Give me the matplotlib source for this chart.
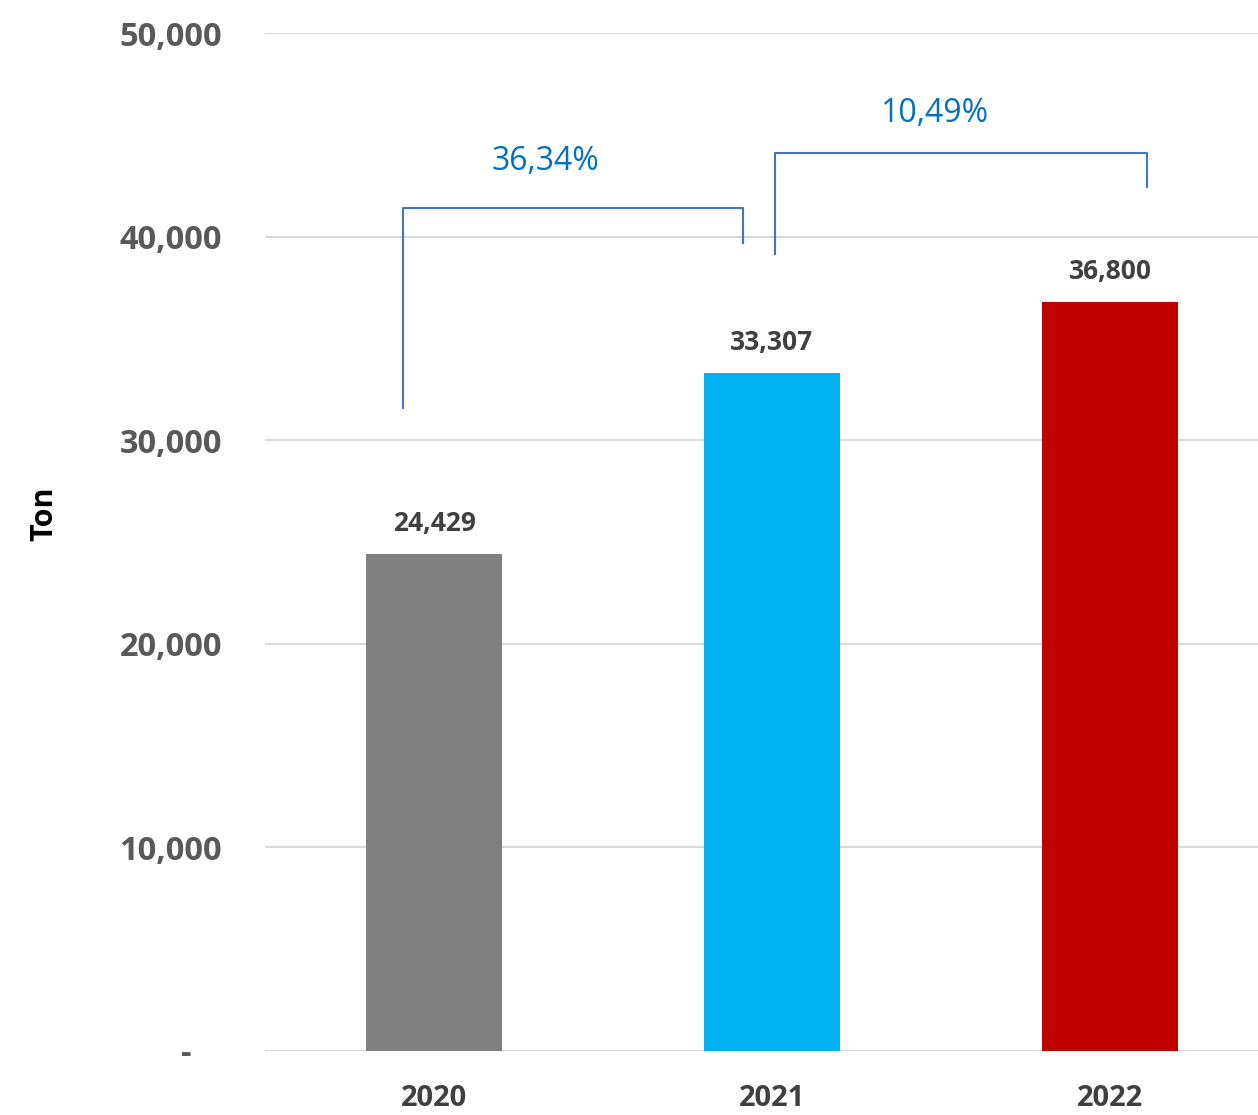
import matplotlib.pyplot as plt

# ===============================
# Dados
# ===============================
years = ["2020", "2021", "2022"]
tons = [24429, 33307, 36800]
bar_colors = ["#808080", "#00B0F0", "#C00000"]

yticks = [0, 10000, 20000, 30000, 40000, 50000]
ytick_labels = ["-", "10,000", "20,000", "30,000", "40,000", "50,000"]

growth_labels = ["36,34%", "10,49%"]

plt.rcParams["font.family"] = ["Open Sans", "DejaVu Sans"]

fig = plt.figure(figsize=(12.58, 11.15), dpi=100)
ax = fig.add_axes([265 / 1258, 64 / 1115, 1 - 265 / 1258, (1051 - 33) / 1115])

x = list(range(len(years)))
ax.bar(x, tons, width=0.40, color=bar_colors, zorder=3)

# rotulos de valor
for xi, v in zip(x, tons):
    ax.annotate(f"{v:,}", (xi, v), xytext=(0, 12), textcoords="offset points",
                ha="center", va="bottom", fontsize=19, fontweight="bold",
                color="#404040")

ax.set_xlim(-0.5, 2.438)
ax.set_ylim(0, 50000)
ax.set_yticks(yticks)
ax.set_yticklabels(ytick_labels, fontsize=23.5, fontweight="bold", color="#595959")
ax.set_xticks(x)
ax.set_xticklabels(years, fontsize=21, fontweight="bold", color="#404040")
ax.tick_params(axis="both", length=0)
ax.tick_params(axis="y", pad=31)
ax.tick_params(axis="x", pad=24)

# o "-" do zero fica um pouco mais a esquerda
ax.get_yticklabels()[0].set_x(-0.031)

ax.grid(axis="y", color="#D9D9D9", linewidth=1.5, zorder=0)
for s in ax.spines.values():
    s.set_visible(False)

ax.set_ylabel("Ton", fontsize=22, fontweight="bold", color="black")
ax.yaxis.set_label_coords(-0.207, 0.528)

# colchetes de crescimento
line_color = "#4472C4"
ax.plot([-0.092, -0.092, 0.914, 0.914], [31580, 41400, 41400, 39690],
        color=line_color, linewidth=1.5, zorder=4)
ax.plot([1.009, 1.009, 2.109, 2.109], [39150, 44100, 44100, 42440],
        color=line_color, linewidth=1.5, zorder=4)
ax.text(0.331, 43700, growth_labels[0], ha="center", va="center",
        fontsize=23, color="#0070C0")
ax.text(1.479, 46050, growth_labels[1], ha="center", va="center",
        fontsize=23, color="#0070C0")

fig.savefig("out.png", dpi=100)
